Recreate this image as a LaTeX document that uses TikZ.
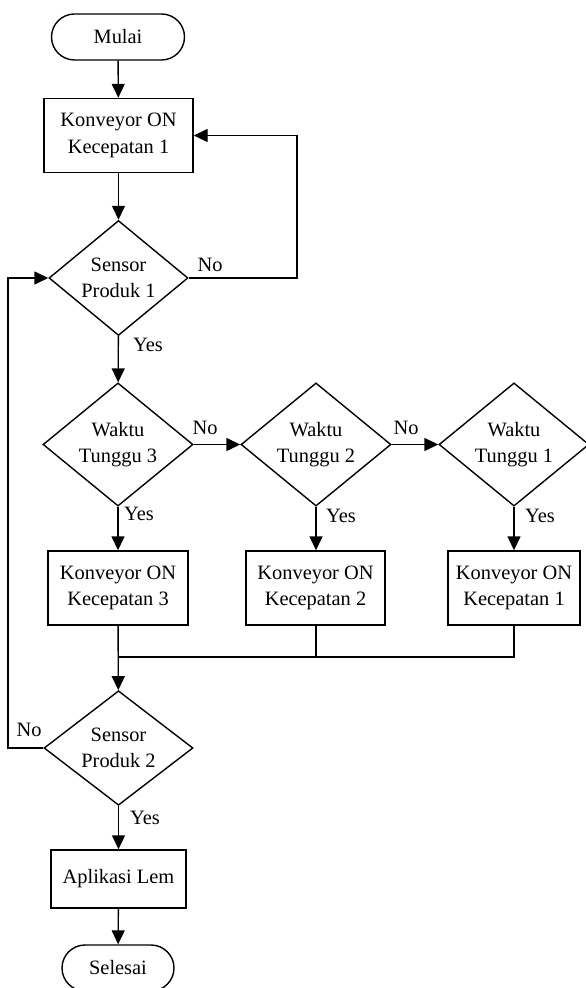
\documentclass[tikz,border=0pt]{standalone}
\usepackage{fontspec}
\setmainfont{Liberation Serif}
\usepackage{tikz}
\usetikzlibrary{arrows.meta,shapes.geometric,shapes.misc}

\begin{document}
\begin{tikzpicture}[x=0.5pt,y=-0.5pt,line width=0.7pt,
                font=\fontsize{10.2}{13.3}\selectfont,
                terminal/.style={draw,rounded rectangle,minimum height=23pt,inner sep=0pt},
                proses/.style={draw,rectangle,align=center,minimum height=37pt,inner sep=0pt},
                keputusan/.style={draw,diamond,align=center,inner sep=0pt,minimum width=75pt,minimum height=55.5pt},
                panah/.style={-{Triangle[length=7pt,width=6.5pt]}}]
                \useasboundingbox (0,0) rectangle (585,988);

                \node[terminal,minimum width=66.5pt] (mulai) at (118,37) {Mulai};
                \node[proses,minimum width=74.5pt] (kon1) at (118.5,135.5) {Konveyor ON\\Kecepatan 1};
                \node[keputusan,minimum width=69.5pt,minimum height=57.5pt] (sensor1) at (118.5,278) {Sensor\\Produk 1};

                \node[keputusan] (tunggu3) at (118,444.5) {Waktu\\Tunggu 3};
                \node[keputusan] (tunggu2) at (316,444.5) {Waktu\\Tunggu 2};
                \node[keputusan] (tunggu1) at (514,444.5) {Waktu\\Tunggu 1};

                \node[proses,minimum width=70pt] (kec3) at (118,588) {Konveyor ON\\Kecepatan 3};
                \node[proses,minimum width=69.5pt] (kec2) at (315.5,588) {Konveyor ON\\Kecepatan 2};
                \node[proses,minimum width=66pt] (kec1) at (514,588) {Konveyor ON\\Kecepatan 1};

                \node[keputusan,minimum width=74.5pt] (sensor2) at (118.5,748) {Sensor\\Produk 2};
                \node[proses,minimum width=67.5pt,minimum height=29pt] (lem) at (118.5,879) {Aplikasi Lem};
                \node[terminal,minimum width=56pt] (selesai) at (118,968) {Selesai};

                \coordinate (kanan) at (297,278);
                \coordinate (kiri) at (8,748);
                \coordinate (gabung) at (118,657);

                \draw[panah] (mulai) -- (kon1);
                \draw[panah] (kon1) -- (sensor1);
                \draw[panah] (sensor1.east) -- (kanan) |- (kon1.east);
                \node[] at (210,265) {No};

                \draw[panah] (sensor1) -- (tunggu3);
                \node[] at (148,345) {Yes};

                \draw[panah] (tunggu3.east) -- (tunggu2.west);
                \node[] at (205,428) {No};
                \draw[panah] (tunggu2.east) -- (tunggu1.west);
                \node[] at (406,428) {No};

                \draw[panah] (tunggu3) -- (kec3);
                \node[] at (139,514) {Yes};
                \draw[panah] (tunggu2) -- (kec2.north -| tunggu2);
                \node[] at (341,516) {Yes};
                \draw[panah] (tunggu1) -- (kec1);
                \node[] at (540,516) {Yes};

                \draw[] (kec1.south) |- (gabung);
                \draw[] (kec2.south -| tunggu2) -- (gabung -| tunggu2);
                \draw[panah] (kec3) -- (sensor2);

                \draw[panah] (sensor2.west) -- (kiri) |- (sensor1.west);
                \node[] at (29,730) {No};

                \draw[panah] (sensor2) -- (lem);
                \node[] at (145,818) {Yes};
                \draw[panah] (lem) -- (selesai);
            \end{tikzpicture}
\end{document}
